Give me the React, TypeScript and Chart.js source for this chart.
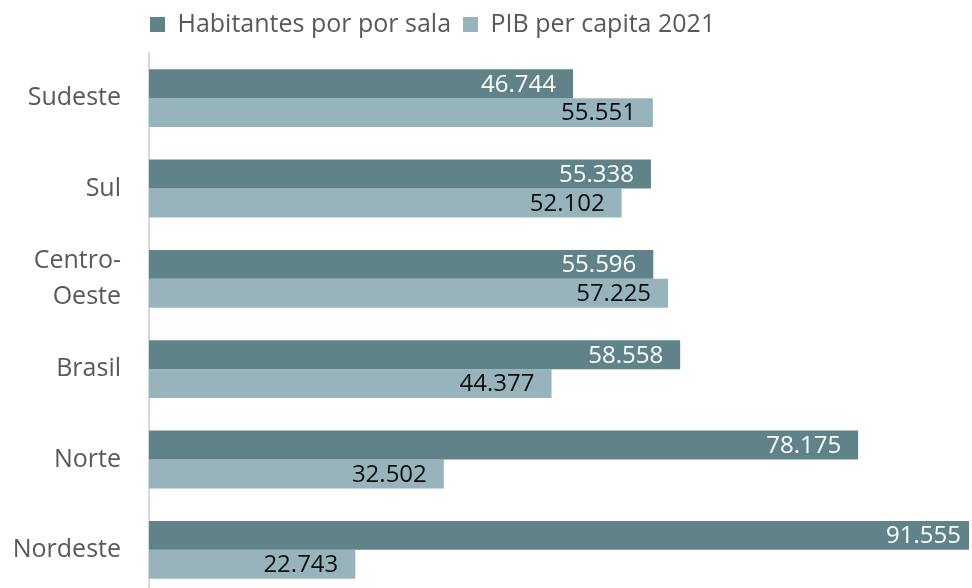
import React, { useEffect, useRef } from 'react';
import { Chart, registerables } from 'chart.js';

Chart.register(...registerables);

const categories = ['Sudeste', 'Sul', 'Centro-Oeste', 'Brasil', 'Norte', 'Nordeste'];
const seriesNames = ['Habitantes por por sala', 'PIB per capita 2021'];
const habitantes = [46.744, 55.338, 55.596, 58.558, 78.175, 91.555];
const pib = [55.551, 52.102, 57.225, 44.377, 32.502, 22.743];
const xMin = 0;
const xMax = 90.4;

const COLORS = ['#5f8389', '#97b4bd'];
const LABEL_COLORS = ['#ffffff', '#0d0d0d'];
const FONT = '"Open Sans", "DejaVu Sans", sans-serif';

const labelPlugin = {
  id: 'barLabels',
  afterLayout(chart: any) {
    if (chart.legend) {
      chart.legend.left = 138;
    }
  },
  afterDatasetsDraw(chart: any) {
    const { ctx, chartArea } = chart;
    ctx.save();
    ctx.font = `24px ${FONT}`;
    ctx.textAlign = 'right';
    ctx.textBaseline = 'middle';
    chart.data.datasets.forEach((ds: any, di: number) => {
      const meta = chart.getDatasetMeta(di);
      ctx.fillStyle = LABEL_COLORS[di];
      meta.data.forEach((el: any, i: number) => {
        const v = ds.data[i] as number;
        const x = Math.min(el.x - 17, chartArea.right - 8);
        ctx.fillText(v.toFixed(3), x, el.y + 1);
      });
    });
    ctx.restore();
  },
};

export default function App() {
  const ref = useRef<HTMLCanvasElement | null>(null);

  useEffect(() => {
    if (!ref.current) return;
    const chart = new Chart(ref.current, {
      type: 'bar',
      data: {
        labels: categories,
        datasets: [
          {
            label: seriesNames[0],
            data: habitantes,
            backgroundColor: COLORS[0],
            borderWidth: 0,
            barPercentage: 1,
            categoryPercentage: 0.64,
          },
          {
            label: seriesNames[1],
            data: pib,
            backgroundColor: COLORS[1],
            borderWidth: 0,
            barPercentage: 1,
            categoryPercentage: 0.64,
          },
        ],
      },
      options: {
        indexAxis: 'y',
        responsive: false,
        animation: false,
        devicePixelRatio: 1,
        layout: { padding: { left: 0, right: 3, top: 0, bottom: 5 } },
        plugins: {
          legend: {
            display: true,
            position: 'top',
            align: 'start',
            labels: {
              boxWidth: 15,
              boxHeight: 15,
              padding: 12,
              color: '#595959',
              font: { family: FONT, size: 25 },
            },
          },
          tooltip: { enabled: false },
        },
        scales: {
          x: {
            position: 'top',
            min: xMin,
            max: xMax,
            display: true,
            grid: { display: false, drawTicks: false },
            border: { display: false },
            ticks: { display: false },
            afterFit: (s: any) => {
              s.height = 6;
            },
          },
          y: {
            type: 'category',
            grid: {
              display: true,
              drawOnChartArea: false,
              drawTicks: true,
              tickLength: 28,
              color: 'rgba(0,0,0,0)',
            },
            border: { display: true, color: '#d9d9d9', width: 2 },
            ticks: {
              color: '#595959',
              padding: 0,
              font: { family: FONT, size: 25, lineHeight: 1.45 },
              callback: (_v: any, i: number) => {
                const c = categories[i];
                return c.includes('-') ? [c.split('-')[0] + '-', c.split('-')[1]] : c;
              },
            },
            afterFit: (s: any) => {
              s.width = 149;
              s.paddingTop = 0;
              s.paddingBottom = 0;
            },
          },
        },
      },
      plugins: [labelPlugin],
    } as any);
    return () => chart.destroy();
  }, []);

  return (
    <div style={{ position: 'fixed', left: 0, top: 0, width: 972, height: 588, overflow: 'hidden', background: '#fff' }}>
      <canvas ref={ref} width={972} height={600} style={{ display: 'block', width: 972, height: 600 }} />
    </div>
  );
}
